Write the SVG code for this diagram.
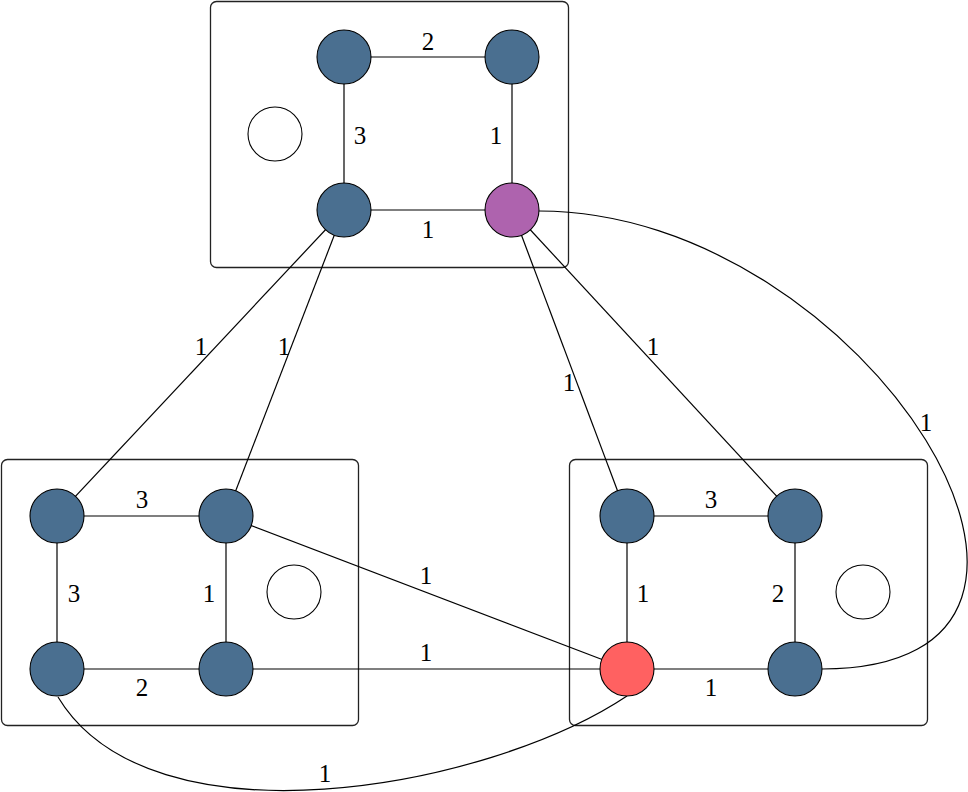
<svg xmlns="http://www.w3.org/2000/svg" width="968" height="792" viewBox="0 0 968 792">
<style>
.box{fill:none;stroke:#222;stroke-width:1.3}
.e{fill:none;stroke:#000;stroke-width:1.2}
.n{stroke:#000;stroke-width:1.1}
.b{fill:#4a6f90}
.p{fill:#ae63ae}
.r{fill:#ff6161}
.w{fill:#fff}
.l{font-family:"Liberation Serif","DejaVu Serif",serif;font-size:25px;text-anchor:middle;fill:#000}
</style>
<rect width="968" height="792" fill="#fff"/>
<g id="boxes">
<rect class="box" x="210.5" y="1.5" width="358" height="266" rx="6"/>
<rect class="box" x="1.5" y="459.5" width="357" height="266" rx="6"/>
<rect class="box" x="569.5" y="459.5" width="358" height="266" rx="6"/>
</g>
<g id="connectors">
<line class="e" x1="344" y1="57" x2="512" y2="57"/>
<line class="e" x1="344" y1="57" x2="344" y2="210"/>
<line class="e" x1="512" y1="57" x2="512" y2="210"/>
<line class="e" x1="344" y1="210" x2="512" y2="210"/>
<line class="e" x1="57" y1="516" x2="226" y2="516"/>
<line class="e" x1="57" y1="516" x2="57" y2="669"/>
<line class="e" x1="226" y1="516" x2="226" y2="669"/>
<line class="e" x1="57" y1="669" x2="226" y2="669"/>
<line class="e" x1="627" y1="516" x2="795" y2="516"/>
<line class="e" x1="627" y1="516" x2="627" y2="669"/>
<line class="e" x1="795" y1="516" x2="795" y2="669"/>
<line class="e" x1="627" y1="669" x2="795" y2="669"/>
<line class="e" x1="344" y1="210" x2="57" y2="516"/>
<line class="e" x1="344" y1="210" x2="226" y2="516"/>
<line class="e" x1="512" y1="210" x2="627" y2="516"/>
<line class="e" x1="512" y1="210" x2="795" y2="516"/>
<line class="e" x1="226" y1="516" x2="627" y2="669"/>
<line class="e" x1="226" y1="669" x2="627" y2="669"/>
<path class="e" d="M539 211 C866 211 1149 669 822 669"/>
<path class="e" d="M58 697 C150 850 486 790 627 696"/>
</g>
<g id="labels">
<text class="l" x="428" y="50">2</text>
<text class="l" x="360" y="144">3</text>
<text class="l" x="496" y="144">1</text>
<text class="l" x="428" y="238">1</text>
<text class="l" x="142" y="508">3</text>
<text class="l" x="74" y="602">3</text>
<text class="l" x="209" y="602">1</text>
<text class="l" x="142" y="696">2</text>
<text class="l" x="711" y="508">3</text>
<text class="l" x="643" y="602">1</text>
<text class="l" x="778" y="602">2</text>
<text class="l" x="711" y="696">1</text>
<text class="l" x="201" y="355">1</text>
<text class="l" x="284" y="355">1</text>
<text class="l" x="569" y="391">1</text>
<text class="l" x="653" y="355">1</text>
<text class="l" x="426" y="584">1</text>
<text class="l" x="426" y="661">1</text>
<text class="l" x="325" y="782">1</text>
<text class="l" x="926" y="431">1</text>
</g>
<g id="n_top_tl"><circle class="n b" cx="344" cy="57" r="27"/></g>
<g id="n_top_tr"><circle class="n b" cx="512" cy="57" r="27"/></g>
<g id="n_top_bl"><circle class="n b" cx="344" cy="210" r="27"/></g>
<g id="n_top_br"><circle class="n p" cx="512" cy="210" r="27"/></g>
<g id="n_top_w"><circle class="n w" cx="275" cy="134" r="27"/></g>
<g id="n_bl_tl"><circle class="n b" cx="57" cy="516" r="27"/></g>
<g id="n_bl_tr"><circle class="n b" cx="226" cy="516" r="27"/></g>
<g id="n_bl_bl"><circle class="n b" cx="57" cy="669" r="27"/></g>
<g id="n_bl_br"><circle class="n b" cx="226" cy="669" r="27"/></g>
<g id="n_bl_w"><circle class="n w" cx="294" cy="592" r="27"/></g>
<g id="n_br_tl"><circle class="n b" cx="627" cy="516" r="27"/></g>
<g id="n_br_tr"><circle class="n b" cx="795" cy="516" r="27"/></g>
<g id="n_br_bl"><circle class="n r" cx="627" cy="669" r="27"/></g>
<g id="n_br_br"><circle class="n b" cx="795" cy="669" r="27"/></g>
<g id="n_br_w"><circle class="n w" cx="863" cy="592" r="27"/></g>
</svg>
